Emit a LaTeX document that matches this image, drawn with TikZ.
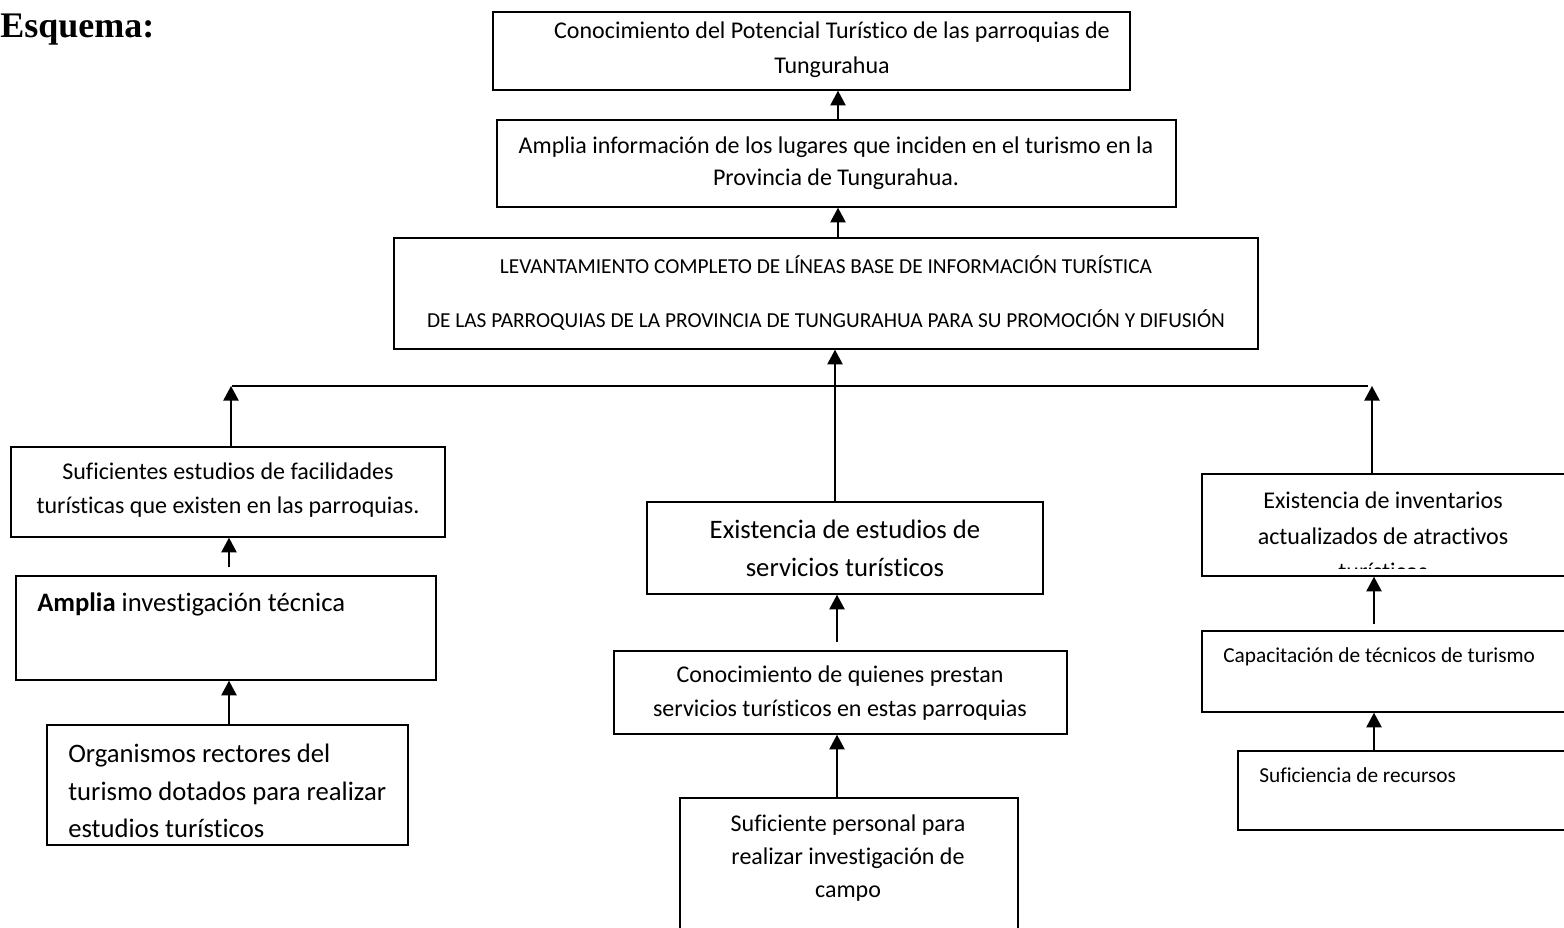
\documentclass[tikz,border=0pt]{standalone}
\usepackage{fontspec}
\setmainfont{Carlito}[Ligatures=NoCommon]
\newfontfamily\timesfont{Liberation Serif}
\usetikzlibrary{arrows.meta,fit,calc}
\begin{document}
\begin{tikzpicture}[x=0.75pt,y=-0.75pt,
  box/.style={draw, line width=1.1pt, inner sep=0pt},
  link/.style={line width=1.1pt},
  arr/.style={line width=1.1pt, -{Triangle[length=11pt,width=11.5pt]}},
  txt/.style={inner sep=0pt, align=center},
  ftA/.style={font=\fontsize{18}{25.5}\selectfont},
  ftB/.style={font=\fontsize{20}{28.5}\selectfont},
  ftC/.style={font=\fontsize{16}{20}\selectfont}]
\clip (0,0) rectangle (1564,928);
% title
\node[inner sep=0pt, anchor=base west, font=\timesfont\bfseries\fontsize{27}{30}\selectfont] (title) at (0,37) {Esquema:};
% boxes
\node[box, fit={(493,12) (1130,90)}] (b1) {};
\node[box, fit={(497,120) (1176,207)}] (b2) {};
\node[box, fit={(394,238) (1258,349)}] (b3) {};
\node[box, fit={(11,447) (445,537)}] (L1) {};
\node[box, fit={(16,576) (436,680)}] (L2) {};
\node[box, fit={(47,725) (408,845)}] (L3) {};
\node[box, fit={(647,502) (1043,594)}] (C1) {};
\node[box, fit={(614,651) (1067,734)}] (C2) {};
\node[box, fit={(680,798) (1018,950)}] (C3) {};
\node[box, fit={(1202,474) (1590,576)}] (R1) {};
\node[box, fit={(1202,631) (1590,712)}] (R2) {};
\node[box, fit={(1238,751) (1590,830)}] (R3) {};
% texts
\node[txt, font=\fontsize{18}{26}\selectfont] (t1) at (832,50) {Conocimiento del Potencial Turístico de las parroquias de\\Tungurahua};
\node[txt, font=\fontsize{18}{24}\selectfont] (t2) at (836,163) {Amplia información de los lugares que inciden en el turismo en la\\Provincia de Tungurahua.};
\node[txt, font=\fontsize{16}{41}\selectfont] (t3) at (826,293) {LEVANTAMIENTO COMPLETO DE LÍNEAS BASE DE INFORMACIÓN TURÍSTICA\\DE LAS PARROQUIAS DE LA PROVINCIA DE TUNGURAHUA PARA SU PROMOCIÓN Y DIFUSIÓN};
\node[txt, ftA] (tL1) at (228,490) {Suficientes estudios de facilidades\\turísticas que existen en las parroquias.};
\node[txt, ftB, anchor=west] (tL2) at (37,604) {\textbf{Amplia} investigación técnica};
\node[txt, anchor=west, align=left, font=\fontsize{20}{28}\selectfont] (tL3) at (68,791) {Organismos rectores del\\turismo dotados para realizar\\estudios turísticos};
\node[txt, ftB] (tC1) at (845,548) {Existencia de estudios de\\servicios turísticos};
\node[txt, font=\fontsize{18}{25}\selectfont] (tC2) at (840,693) {Conocimiento de quienes prestan\\servicios turísticos en estas parroquias};
\node[txt, font=\fontsize{18}{25}\selectfont] (tC3) at (848,858) {Suficiente personal para\\realizar investigación de\\campo};
\begin{scope}
\clip (1202,474) rectangle (1564,568);
\node[txt, font=\fontsize{18}{26.5}\selectfont] (tR1) at (1383,536) {Existencia de inventarios\\actualizados de atractivos\\turísticos};
\end{scope}
\node[txt, ftC, anchor=west] (tR2) at (1223,657) {Capacitación de técnicos de turismo};
\node[txt, ftC, anchor=west] (tR3) at (1259,775) {Suficiencia de recursos};
% connector coordinates
\coordinate (x1) at (838,0);
\coordinate (xc) at (835,0);
\coordinate (xc2) at (837,0);
\coordinate (xl) at (231,0);
\coordinate (xl2) at (229,0);
\coordinate (xr) at (1372,0);
\coordinate (xr2) at (1374,0);
\coordinate (hl) at (232,386);
\coordinate (hr) at (1368,386);
% connectors
\draw[arr] (x1 |- b2.north) -- (x1 |- b1.south);
\draw[arr] (x1 |- b3.north) -- (x1 |- b2.south);
\draw[arr] (xc |- C1.north) -- (xc |- b3.south);
\draw[link] (hl) -- (hr);
\draw[arr] (xl |- L1.north) -- (xl |- hl);
\draw[arr] (xr |- R1.north) -- (xr |- hr);
\draw[arr] ($(xl2 |- L2.north)+(0,-8)$) -- (xl2 |- L1.south);
\draw[arr] (xl2 |- L3.north) -- (xl2 |- L2.south);
\draw[arr] ($(xc2 |- C2.north)+(0,-8)$) -- (xc2 |- C1.south);
\draw[arr] (xc2 |- C3.north) -- (xc2 |- C2.south);
\draw[arr] ($(xr2 |- R2.north)+(0,-6)$) -- (xr2 |- R1.south);
\draw[arr] (xr2 |- R3.north) -- (xr2 |- R2.south);
\end{tikzpicture}
\end{document}
